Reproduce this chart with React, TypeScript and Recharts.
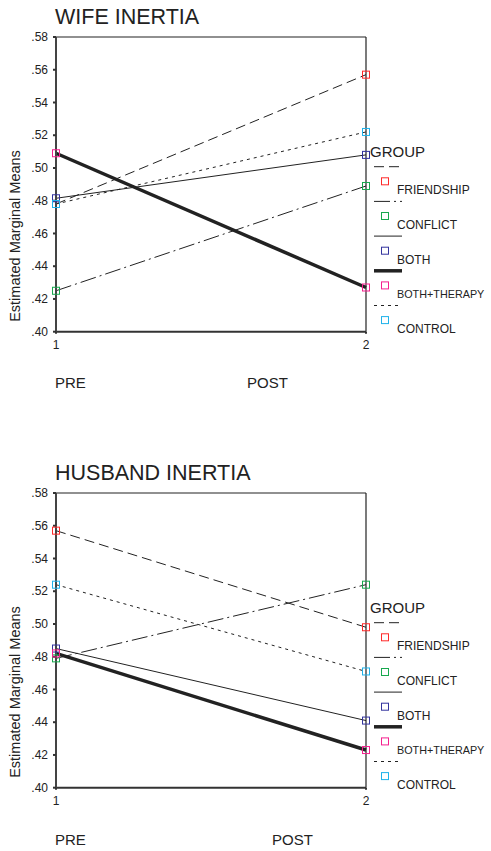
import React from 'react';
import {
  LineChart,
  Line,
  XAxis,
  YAxis,
  Legend,
  ReferenceLine,
} from 'recharts';

const FONT = '"Liberation Sans", Arial, sans-serif';

const TIMES = ['1', '2'];
const Y_TICKS = [0.4, 0.42, 0.44, 0.46, 0.48, 0.5, 0.52, 0.54, 0.56, 0.58];

// wife inertia, pre/post
const WIFE_FRIENDSHIP = [0.478, 0.557];
const WIFE_CONFLICT = [0.425, 0.489];
const WIFE_BOTH = [0.4815, 0.508];
const WIFE_BOTH_THERAPY = [0.509, 0.427];
const WIFE_CONTROL = [0.478, 0.522];

// husband inertia, pre/post
const HUSB_FRIENDSHIP = [0.557, 0.498];
const HUSB_CONFLICT = [0.479, 0.524];
const HUSB_BOTH = [0.485, 0.441];
const HUSB_BOTH_THERAPY = [0.482, 0.423];
const HUSB_CONTROL = [0.524, 0.471];

const GROUPS = [
  { key: 'friendship', name: 'FRIENDSHIP', marker: '#ff2a2a', dash: '10 5', width: 1 },
  { key: 'conflict', name: 'CONFLICT', marker: '#17a84e', dash: '16 4 2 4', width: 1 },
  { key: 'both', name: 'BOTH', marker: '#34349e', dash: undefined, width: 1 },
  { key: 'bothTherapy', name: 'BOTH+THERAPY', marker: '#f5208e', dash: undefined, width: 3.5 },
  { key: 'control', name: 'CONTROL', marker: '#1fb2ea', dash: '3 4', width: 1 },
];

const buildRows = (series: number[][]) =>
  TIMES.map((t, i) => ({
    time: t,
    friendship: series[0][i],
    conflict: series[1][i],
    both: series[2][i],
    bothTherapy: series[3][i],
    control: series[4][i],
  }));

const wifeRows = buildRows([WIFE_FRIENDSHIP, WIFE_CONFLICT, WIFE_BOTH, WIFE_BOTH_THERAPY, WIFE_CONTROL]);
const husbRows = buildRows([HUSB_FRIENDSHIP, HUSB_CONFLICT, HUSB_BOTH, HUSB_BOTH_THERAPY, HUSB_CONTROL]);

const squareDot = (color: string) => (props: any) => {
  const { cx, cy, index } = props;
  if (cx == null || cy == null) return <g key={`d-${index}`} />;
  return (
    <rect
      key={`d-${color}-${index}`}
      x={cx - 3.5}
      y={cy - 3.5}
      width={7}
      height={7}
      fill="none"
      stroke={color}
      strokeWidth={1}
    />
  );
};

const GroupLegend = () => (
  <svg width={124} height={200} style={{ overflow: 'visible' }}>
    <text x={4} y={17} fontSize={15} fill="#222" fontFamily={FONT}>
      GROUP
    </text>
    {GROUPS.map((g, i) => {
      const step = i * 34.7;
      // long label would run off the page edge, so a touch smaller
      const size = g.name.length > 10 ? 10.8 : 12;
      return (
        <g key={g.key}>
          <line
            x1={8}
            x2={36}
            y1={26.7 + step}
            y2={26.7 + step}
            stroke="#222"
            strokeWidth={g.width}
            strokeDasharray={g.dash}
          />
          <rect x={15.5} y={37.8 + step} width={7} height={7} fill="none" stroke={g.marker} />
          <text x={31} y={54.3 + step} fontSize={size} fill="#222" fontFamily={FONT}>
            {g.name}
          </text>
        </g>
      );
    })}
  </svg>
);

const MeansChart = ({ rows, top }: { rows: any[]; top: number }) => (
  <div style={{ position: 'absolute', left: 0, top }}>
    <LineChart width={491} height={360} data={rows} margin={{ top: 37, right: 125, bottom: 0, left: 0 }}>
      <XAxis
        dataKey="time"
        height={28.3}
        tick={{ fill: '#222', fontSize: 12, fontFamily: FONT }}
        tickSize={2}
        tickMargin={7}
        stroke="#333"
        axisLine={{ stroke: '#333', strokeWidth: 2 }}
        tickLine={{ stroke: '#333', strokeWidth: 2 }}
      />
      <YAxis
        width={56}
        domain={[0.4, 0.58]}
        ticks={Y_TICKS}
        allowDataOverflow
        tickFormatter={(v: number) => v.toFixed(2).replace(/^0/, '')}
        tick={{ fill: '#222', fontSize: 12, fontFamily: FONT }}
        tickSize={3}
        tickMargin={5}
        axisLine={{ stroke: '#444', strokeWidth: 2 }}
        tickLine={{ stroke: '#333', strokeWidth: 2 }}
        label={{
          content: () => (
            <text
              transform="rotate(-90)"
              x={-236}
              y={20}
              textAnchor="middle"
              fontSize={14.5}
              fill="#222"
              fontFamily={FONT}
            >
              Estimated Marginal Means
            </text>
          ),
        }}
      />
      <ReferenceLine y={0.58} stroke="#222" strokeWidth={1.2} />
      <ReferenceLine x="2" stroke="#222" strokeWidth={1.2} />
      {GROUPS.map((g) => (
        <Line
          key={g.key}
          dataKey={g.key}
          name={g.name}
          type="linear"
          stroke="#222"
          strokeWidth={g.width}
          strokeDasharray={g.dash}
          dot={squareDot(g.marker)}
          activeDot={false}
          isAnimationActive={false}
        />
      ))}
      <Legend
        layout="horizontal"
        verticalAlign="middle"
        align="center"
        content={() => <GroupLegend />}
        wrapperStyle={{ left: 366, top: 140, width: 124, height: 200 }}
      />
    </LineChart>
  </div>
);

const App = () => (
  <div style={{ position: 'absolute', left: 0, top: 0, width: 491, height: 851, background: '#fff' }}>
    <MeansChart rows={wifeRows} top={0} />
    <MeansChart rows={husbRows} top={456.3} />
    <svg
      width={491}
      height={851}
      style={{ position: 'absolute', left: 0, top: 0, pointerEvents: 'none' }}
      fontFamily={FONT}
      fill="#222"
    >
      <text x={55} y={24} fontSize={21.5}>WIFE INERTIA</text>
      <text x={55} y={388.4} fontSize={15}>PRE</text>
      <text x={247} y={388.4} fontSize={15}>POST</text>
      <text x={55} y={479.5} fontSize={21.5}>HUSBAND INERTIA</text>
      <text x={55} y={844.7} fontSize={15}>PRE</text>
      <text x={272} y={844.7} fontSize={15}>POST</text>
    </svg>
  </div>
);

export default App;
